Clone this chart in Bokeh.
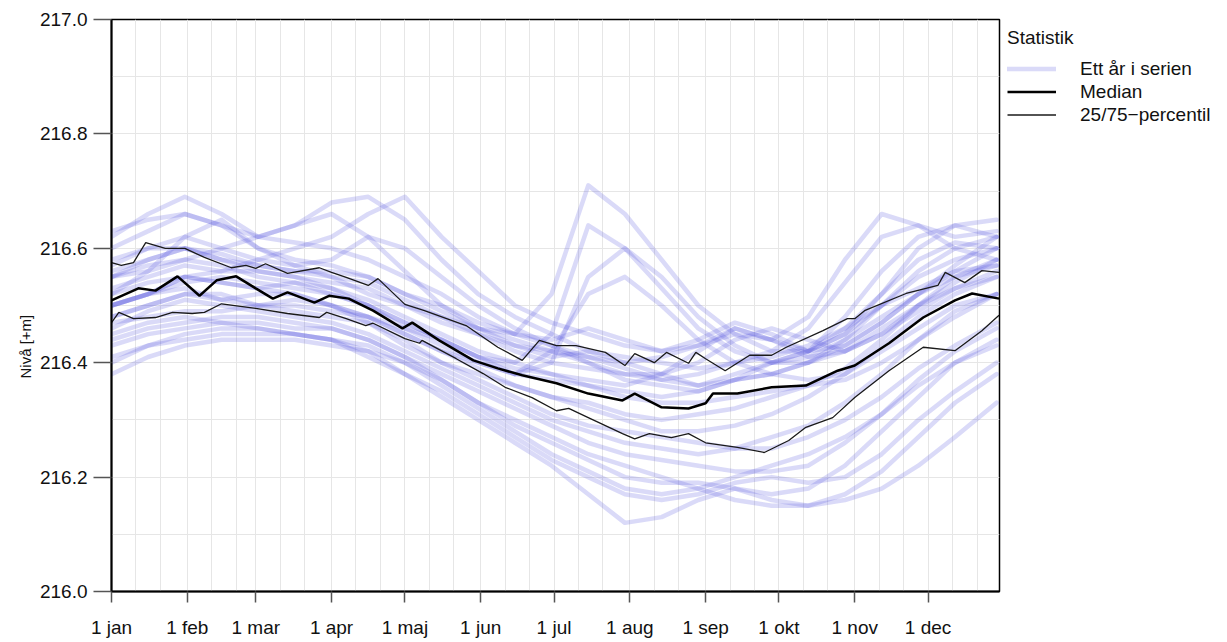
from bokeh.plotting import figure
from bokeh.models import (Range1d, FixedTicker, Legend, LegendItem, Title,
                          PrintfTickFormatter)
from bokeh.embed import file_html
from bokeh.resources import INLINE

# ---------------- data ----------------
month_labels = ["1 jan", "1 feb", "1 mar", "1 apr", "1 maj", "1 jun",
                "1 jul", "1 aug", "1 sep", "1 okt", "1 nov", "1 dec"]
month_days = [0, 31, 59, 90, 120, 151, 181, 212, 243, 273, 304, 334]

# day grid for individual years
year_days = [0, 15, 30, 45, 60, 75, 90, 105, 120, 135, 150, 165, 180, 195,
             210, 225, 240, 255, 270, 285, 300, 315, 330, 345, 362]

yr01 = [216.60,216.63,216.66,216.64,216.60,216.58,216.57,216.55,216.52,216.50,216.47,216.45,216.52,216.71,216.66,216.58,216.50,216.45,216.42,216.42,216.45,216.50,216.55,216.58,216.60]
yr02 = [216.55,216.58,216.60,216.58,216.56,216.55,216.53,216.50,216.47,216.44,216.41,216.40,216.45,216.64,216.60,216.53,216.46,216.42,216.40,216.41,216.44,216.48,216.52,216.55,216.57]
yr03 = [216.50,216.52,216.55,216.54,216.53,216.52,216.50,216.48,216.45,216.42,216.40,216.38,216.40,216.55,216.60,216.55,216.48,216.43,216.40,216.40,216.42,216.46,216.50,216.53,216.55]
yr04 = [216.48,216.50,216.52,216.52,216.50,216.50,216.49,216.48,216.46,216.44,216.41,216.38,216.42,216.52,216.55,216.50,216.44,216.40,216.38,216.37,216.38,216.42,216.46,216.50,216.52]
yr05 = [216.62,216.66,216.69,216.66,216.62,216.64,216.66,216.62,216.56,216.50,216.46,216.44,216.42,216.40,216.38,216.38,216.40,216.44,216.46,216.44,216.42,216.45,216.50,216.55,216.58]
yr06 = [216.55,216.57,216.58,216.60,216.62,216.64,216.68,216.69,216.65,216.58,216.52,216.48,216.45,216.42,216.40,216.38,216.36,216.38,216.40,216.42,216.48,216.56,216.62,216.64,216.62]
yr07 = [216.50,216.52,216.55,216.56,216.58,216.60,216.62,216.66,216.69,216.62,216.56,216.50,216.47,216.45,216.43,216.42,216.44,216.47,216.45,216.42,216.45,216.52,216.60,216.64,216.65]
yr08 = [216.58,216.60,216.62,216.60,216.58,216.57,216.55,216.52,216.50,216.48,216.46,216.45,216.44,216.46,216.44,216.42,216.43,216.45,216.44,216.48,216.58,216.66,216.64,216.62,216.63]
yr09 = [216.52,216.54,216.55,216.54,216.53,216.54,216.52,216.50,216.46,216.43,216.40,216.38,216.37,216.36,216.34,216.33,216.33,216.34,216.35,216.36,216.37,216.40,216.44,216.49,216.52]
yr10 = [216.57,216.60,216.60,216.58,216.57,216.56,216.56,216.55,216.52,216.49,216.46,216.43,216.41,216.42,216.41,216.40,216.39,216.40,216.41,216.43,216.46,216.50,216.53,216.56,216.57]
yr11 = [216.47,216.48,216.49,216.49,216.50,216.49,216.48,216.47,216.44,216.40,216.37,216.34,216.31,216.29,216.28,216.27,216.26,216.25,216.25,216.27,216.30,216.34,216.39,216.43,216.47]
yr12 = [216.45,216.47,216.48,216.47,216.46,216.45,216.44,216.42,216.38,216.34,216.30,216.26,216.22,216.17,216.12,216.13,216.16,216.18,216.17,216.18,216.22,216.28,216.34,216.40,216.44]
yr13 = [216.40,216.43,216.45,216.46,216.46,216.45,216.44,216.41,216.38,216.35,216.31,216.27,216.23,216.20,216.17,216.16,216.17,216.19,216.20,216.19,216.20,216.24,216.30,216.35,216.40]
yr14 = [216.38,216.41,216.43,216.44,216.44,216.44,216.43,216.42,216.40,216.37,216.33,216.30,216.27,216.24,216.22,216.20,216.18,216.16,216.15,216.15,216.17,216.21,216.27,216.33,216.38]
yr15 = [216.43,216.45,216.46,216.47,216.47,216.46,216.46,216.44,216.41,216.38,216.35,216.32,216.29,216.26,216.24,216.23,216.22,216.21,216.21,216.22,216.26,216.31,216.37,216.42,216.46]
yr16 = [216.50,216.52,216.53,216.51,216.50,216.51,216.50,216.48,216.45,216.42,216.39,216.36,216.34,216.32,216.30,216.28,216.28,216.29,216.31,216.34,216.38,216.43,216.48,216.52,216.55]
yr17 = [216.55,216.56,216.58,216.57,216.55,216.54,216.53,216.51,216.48,216.45,216.42,216.40,216.38,216.36,216.35,216.34,216.35,216.37,216.38,216.40,216.43,216.47,216.52,216.56,216.60]
yr18 = [216.53,216.55,216.57,216.56,216.56,216.55,216.54,216.53,216.50,216.47,216.45,216.43,216.42,216.41,216.40,216.41,216.43,216.46,216.44,216.42,216.43,216.47,216.52,216.57,216.62]
yr19 = [216.48,216.50,216.52,216.51,216.52,216.52,216.50,216.47,216.43,216.40,216.38,216.36,216.34,216.33,216.31,216.30,216.31,216.32,216.34,216.36,216.39,216.44,216.50,216.54,216.58]
yr20 = [216.44,216.46,216.47,216.48,216.48,216.47,216.46,216.44,216.41,216.37,216.33,216.29,216.26,216.23,216.20,216.19,216.19,216.18,216.16,216.15,216.16,216.18,216.22,216.27,216.33]
yr21 = [216.63,216.65,216.66,216.64,216.62,216.61,216.60,216.58,216.55,216.52,216.48,216.45,216.43,216.41,216.39,216.37,216.36,216.37,216.38,216.40,216.44,216.50,216.56,216.60,216.62]
yr22 = [216.46,216.49,216.51,216.50,216.49,216.48,216.47,216.45,216.42,216.39,216.36,216.33,216.30,216.28,216.26,216.25,216.24,216.25,216.27,216.29,216.33,216.38,216.44,216.48,216.52]
yr23 = [216.52,216.56,216.62,216.65,216.60,216.57,216.58,216.62,216.60,216.55,216.50,216.46,216.43,216.40,216.37,216.36,216.35,216.37,216.40,216.42,216.46,216.52,216.58,216.61,216.60]
yr24 = [216.50,216.52,216.54,216.55,216.54,216.53,216.52,216.50,216.47,216.44,216.41,216.39,216.38,216.37,216.36,216.38,216.42,216.46,216.44,216.41,216.42,216.45,216.49,216.53,216.56]
yr25 = [216.41,216.43,216.44,216.45,216.45,216.45,216.44,216.43,216.40,216.36,216.32,216.28,216.24,216.21,216.18,216.17,216.18,216.20,216.22,216.24,216.27,216.31,216.36,216.40,216.43]
yr26 = [216.56,216.58,216.60,216.59,216.57,216.56,216.55,216.54,216.51,216.48,216.45,216.42,216.40,216.39,216.38,216.37,216.38,216.40,216.42,216.46,216.54,216.62,216.64,216.60,216.58]

years = [yr01, yr02, yr03, yr04, yr05, yr06, yr07, yr08, yr09, yr10, yr11, yr12, yr13,
         yr14, yr15, yr16, yr17, yr18, yr19, yr20, yr21, yr22, yr23, yr24, yr25, yr26]

median_days = [0, 11, 18, 27, 36, 43, 51, 59, 66, 72, 83, 89, 97, 107, 119, 123, 134, 148, 158,
               168, 182, 195, 209, 214, 225, 236, 243, 246, 256, 270, 284, 297, 304, 318, 332,
               345, 352, 363]
median_vals = [216.509, 216.530, 216.526, 216.551, 216.517, 216.544, 216.551, 216.530, 216.512,
               216.523, 216.505, 216.517, 216.512, 216.491, 216.460, 216.470, 216.439, 216.404,
               216.390, 216.378, 216.364, 216.346, 216.334, 216.346, 216.322, 216.320, 216.329,
               216.346, 216.346, 216.357, 216.360, 216.386, 216.395, 216.434, 216.479, 216.509,
               216.521, 216.512]

p75_days = [0, 4, 9, 14, 22, 30, 38, 49, 55, 59, 63, 72, 85, 90, 96, 105, 109, 120, 128, 145,
            158, 168, 175, 182, 190, 202, 210, 214, 222, 227, 236, 239, 243, 251, 261, 270,
            276, 291, 301, 304, 308, 325, 338, 341, 349, 356, 363]
p75_vals = [216.575, 216.570, 216.575, 216.610, 216.600, 216.600, 216.584, 216.566, 216.570,
            216.565, 216.573, 216.556, 216.566, 216.558, 216.549, 216.535, 216.547, 216.502,
            216.491, 216.465, 216.427, 216.404, 216.439, 216.430, 216.430, 216.418, 216.395,
            216.416, 216.400, 216.418, 216.399, 216.418, 216.407, 216.386, 216.413, 216.413,
            216.427, 216.456, 216.477, 216.477, 216.491, 216.521, 216.535, 216.558, 216.540,
            216.561, 216.558]

p25_days = [0, 3, 9, 18, 25, 33, 38, 45, 59, 72, 85, 88, 96, 104, 107, 120, 126, 127, 141, 152,
            161, 172, 182, 187, 195, 209, 214, 220, 229, 236, 243, 256, 267, 277, 284, 295,
            304, 318, 332, 345, 356, 363]
p25_vals = [216.470, 216.488, 216.477, 216.479, 216.488, 216.486, 216.488, 216.503, 216.495,
            216.486, 216.479, 216.488, 216.477, 216.465, 216.469, 216.442, 216.434, 216.439,
            216.407, 216.381, 216.357, 216.339, 216.316, 216.320, 216.304, 216.276, 216.267,
            216.276, 216.269, 216.276, 216.260, 216.252, 216.243, 216.264, 216.287, 216.304,
            216.339, 216.386, 216.427, 216.421, 216.456, 216.483]

y_ticks = [216.0, 216.2, 216.4, 216.6, 216.8, 217.0]
y_grid = [216.0, 216.1, 216.2, 216.3, 216.4, 216.5, 216.6, 216.7, 216.8, 216.9, 217.0]

legend_title = "Statistik"
legend_labels = ["Ett år i serien", "Median", "25/75\u2212percentil"]
y_label = "Nivå [+m]"

# ---------------- figure ----------------
FONT = "Liberation Sans"
p = figure(width=1227, height=642, frame_width=888, frame_height=572,
           output_backend="svg", toolbar_location=None,
           x_range=Range1d(0, 363.2), y_range=Range1d(216.0, 217.0),
           min_border_left=111, min_border_right=228, min_border_top=19,
           min_border_bottom=51)
p.background_fill_color = "white"
p.border_fill_color = "white"
p.outline_line_color = "black"
p.outline_line_width = 1.5

grid_days = []
for m in month_days:
    grid_days += [m, m + 10, m + 20]
p.xgrid.ticker = FixedTicker(ticks=grid_days)
p.ygrid.ticker = FixedTicker(ticks=y_grid)
for g in (p.xgrid, p.ygrid):
    g.grid_line_color = "#e6e6e6"
    g.grid_line_width = 1

p.xaxis.ticker = FixedTicker(ticks=month_days)
p.xaxis.major_label_overrides = {d: l for d, l in zip(month_days, month_labels)}
p.yaxis.ticker = FixedTicker(ticks=y_ticks)
p.yaxis.formatter = PrintfTickFormatter(format="%.1f")

for ax in (p.xaxis[0], p.yaxis[0]):
    ax.axis_line_color = "black"
    ax.axis_line_width = 2
    ax.major_tick_line_color = "#555555"
    ax.major_tick_line_width = 1.5
    ax.minor_tick_line_color = None
    ax.major_tick_in = 0
    ax.major_label_text_font = FONT
    ax.major_label_text_font_size = "19px"
    ax.major_label_text_color = "#111111"
p.xaxis.major_tick_out = 11
p.xaxis.major_label_standoff = 14
p.yaxis.major_tick_out = 18
p.yaxis.major_label_standoff = 6

# y label as a side title, positioned along the axis like the reference
p.add_layout(Title(text=y_label, align="left", offset=213, vertical_align="middle",
                   text_font=FONT, text_font_size="15px", text_font_style="normal",
                   text_color="#111111", standoff=4), "left")

# lines
year_renderers = []
for ys in years:
    r = p.line(year_days, ys, line_color="#5555dd", line_alpha=0.22, line_width=4.5,
               line_join="round", line_cap="round")
    year_renderers.append(r)
r25 = p.line(p25_days, p25_vals, line_color="#1a1a1a", line_width=1.3)
r75 = p.line(p75_days, p75_vals, line_color="#1a1a1a", line_width=1.3)
rmed = p.line(median_days, median_vals, line_color="black", line_width=2.5)

# legend in the right side panel
legend = Legend(items=[LegendItem(label=legend_labels[0], renderers=[year_renderers[0]]),
                       LegendItem(label=legend_labels[1], renderers=[rmed]),
                       LegendItem(label=legend_labels[2], renderers=[r25])],
                location="top_left", padding=0, margin=8, spacing=0,
                title=legend_title, title_text_font=FONT, title_text_font_size="19px",
                title_text_font_style="normal", title_text_color="#111111",
                title_standoff=8,
                glyph_width=49, glyph_height=23, label_height=23, label_standoff=24,
                label_text_font=FONT, label_text_font_size="19px",
                label_text_color="#111111",
                border_line_color=None, background_fill_alpha=0)
p.add_layout(legend, "right")

open("out.html", "w").write(file_html(p, INLINE))
